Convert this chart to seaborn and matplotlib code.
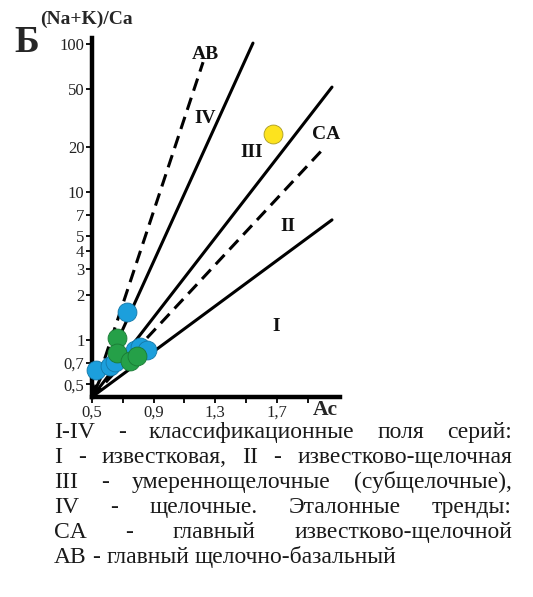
import matplotlib
matplotlib.use("Agg")
import matplotlib.pyplot as plt
import seaborn as sns
import pandas as pd
from matplotlib.ticker import FixedLocator, FixedFormatter, NullFormatter

# ---- sample compositions: Ac vs (Na+K)/Ca ----
blue_x = [0.725, 0.526, 0.617, 0.650, 0.779, 0.810, 0.857]
blue_y = [1.55, 0.627, 0.667, 0.710, 0.856, 0.897, 0.856]
green_x = [0.660, 0.660, 0.747, 0.790]
green_y = [1.03, 0.813, 0.714, 0.771]
yellow_x = [1.675]
yellow_y = [24.6]

# ---- field boundaries and reference trends (all start at the common origin) ----
origin_x = 0.5
origin_y = 0.41
boundary_end_x = [1.545, 2.058, 2.058]
boundary_end_y = [101.6, 51.2, 6.47]
trend_names = ["AB", "CA"]
trend_end_x = [1.221, 1.994]
trend_end_y = [75.5, 19.2]

# ---- text labels on the diagram ----
field_names = ["IV", "III", "II", "I"]
field_x = [1.234, 1.539, 1.773, 1.695]
field_y = [31.6, 18.6, 5.8, 1.22]
trend_label_x = [1.234, 2.02]
trend_label_y = [85.6, 24.3]

# ---- axis ticks ----
y_ticks = [0.5, 0.7, 1, 2, 3, 4, 5, 7, 10, 20, 50, 100]
y_tick_labels = ["0,5", "0,7", "1", "2", "3", "4", "5", "7", "10", "20", "50", "100"]
x_ticks = [0.5, 0.9, 1.3, 1.7]
x_tick_labels = ["0,5", "0,9", "1,3", "1,7"]
x_minor_ticks = [0.7, 1.1, 1.5, 1.9]

caption_lines = [
    "I-IV - классификационные поля серий:",
    "I - известковая, II - известково-щелочная",
    "III - умереннощелочные (субщелочные),",
    "IV - щелочные. Эталонные тренды:",
    "CA - главный известково-щелочной",
    "AB - главный щелочно-базальный",
]
caption_justify = [True, True, True, True, True, False]

sns.set_theme(style="white")
serif = ["Liberation Serif", "DejaVu Serif"]
plt.rcParams["font.family"] = serif

W, H = 533, 597
fig = plt.figure(figsize=(W / 100, H / 100), dpi=100)
ax = fig.add_axes([92 / W, (H - 397) / H, 248 / W, 359 / H])
ax.set_yscale("log")
ax.set_xlim(0.5, 2.11)
ax.set_ylim(origin_y, 110)

# boundaries (solid)
for ex, ey in zip(boundary_end_x, boundary_end_y):
    sns.lineplot(x=[origin_x, ex], y=[origin_y, ey], ax=ax, color="black",
                 linewidth=2.2, sort=False, clip_on=False, zorder=2)
# reference trends (dashed)
for ex, ey in zip(trend_end_x, trend_end_y):
    sns.lineplot(x=[origin_x, ex], y=[origin_y, ey], ax=ax, color="black",
                 linewidth=2.2, sort=False, clip_on=False, zorder=2,
                 linestyle=(0, (4.2, 2.4)))

pts = pd.DataFrame({
    "x": blue_x + green_x + yellow_x,
    "y": blue_y + green_y + yellow_y,
    "group": ["b"] * len(blue_x) + ["g"] * len(green_x) + ["y"] * len(yellow_x),
})
palette = {"b": "#1c9fdc", "g": "#25a048", "y": "#fde31e"}
edges = {"b": "#1478a8", "g": "#1a7a35", "y": "#a89a20"}
for g in ["b", "g", "y"]:
    sub = pts[pts["group"] == g]
    sns.scatterplot(data=sub, x="x", y="y", ax=ax, color=palette[g],
                    edgecolor=edges[g], linewidth=0.6, s=185, zorder=3,
                    clip_on=False, legend=False)

for name, x, y in zip(field_names, field_x, field_y):
    ax.text(x, y, name, fontsize=14, fontweight="bold", ha="center",
            va="center", color="#111111", zorder=4, family=serif)
for name, x, y in zip(trend_names, trend_label_x, trend_label_y):
    ax.text(x, y, name, fontsize=14, fontweight="bold", ha="center",
            va="center", color="#111111", zorder=4, family=serif)

# axes styling
for side in ["top", "right"]:
    ax.spines[side].set_visible(False)
for side in ["left", "bottom"]:
    ax.spines[side].set_linewidth(3.2)
    ax.spines[side].set_color("black")
ax.yaxis.set_major_locator(FixedLocator(y_ticks))
ax.yaxis.set_major_formatter(FixedFormatter(y_tick_labels))
ax.yaxis.set_minor_locator(FixedLocator([]))
ax.yaxis.set_minor_formatter(NullFormatter())
ax.xaxis.set_major_locator(FixedLocator(x_ticks))
ax.xaxis.set_major_formatter(FixedFormatter(x_tick_labels))
ax.xaxis.set_minor_locator(FixedLocator(x_minor_ticks))
ax.tick_params(axis="both", which="both", direction="out", length=4,
               width=1.3, color="black", labelsize=12, pad=1.5,
               labelcolor="#222222", left=True, bottom=True)
for lab in ax.get_xticklabels() + ax.get_yticklabels():
    lab.set_family(serif)
ax.set_xlabel("")
ax.set_ylabel("")
ax.grid(False)

# axis titles and panel letter
fig.text(40 / W, (H - 24) / H, "(Na+K)/Ca", fontsize=14, fontweight="bold",
         ha="left", va="baseline", family=serif)
fig.text(14 / W, (H - 52) / H, "Б", fontsize=27, fontweight="bold",
         ha="left", va="baseline", family=serif)
fig.text(313 / W, (H - 415) / H, "Ac", fontsize=15.5, fontweight="bold",
         ha="left", va="baseline", family=serif)

# caption, justified between left and right margins
left_px, right_px = 54, 512
cap_size = 17
baselines = [438, 463, 488, 513, 538, 563]
fig.canvas.draw()
renderer = fig.canvas.get_renderer()


def text_width(s, size):
    t = fig.text(0, 0, s, fontsize=size, family=serif)
    w = t.get_window_extent(renderer).width
    t.remove()
    return w


space_w = text_width("a a", cap_size) - text_width("aa", cap_size)
for line, just, base in zip(caption_lines, caption_justify, baselines):
    words = line.split(" ")
    texts = [fig.text(0, (H - base) / H, w, fontsize=cap_size, ha="left",
                      va="baseline", color="#1a1a1a", family=serif)
             for w in words]
    widths = [t.get_window_extent(renderer).width for t in texts]
    if just and len(words) > 1:
        gap = max(space_w, (right_px - left_px - sum(widths)) / (len(words) - 1))
    else:
        gap = space_w
    xpos = left_px
    for t, w in zip(texts, widths):
        t.set_x(xpos / W)
        xpos += w + gap

fig.savefig("out.png", dpi=100)
